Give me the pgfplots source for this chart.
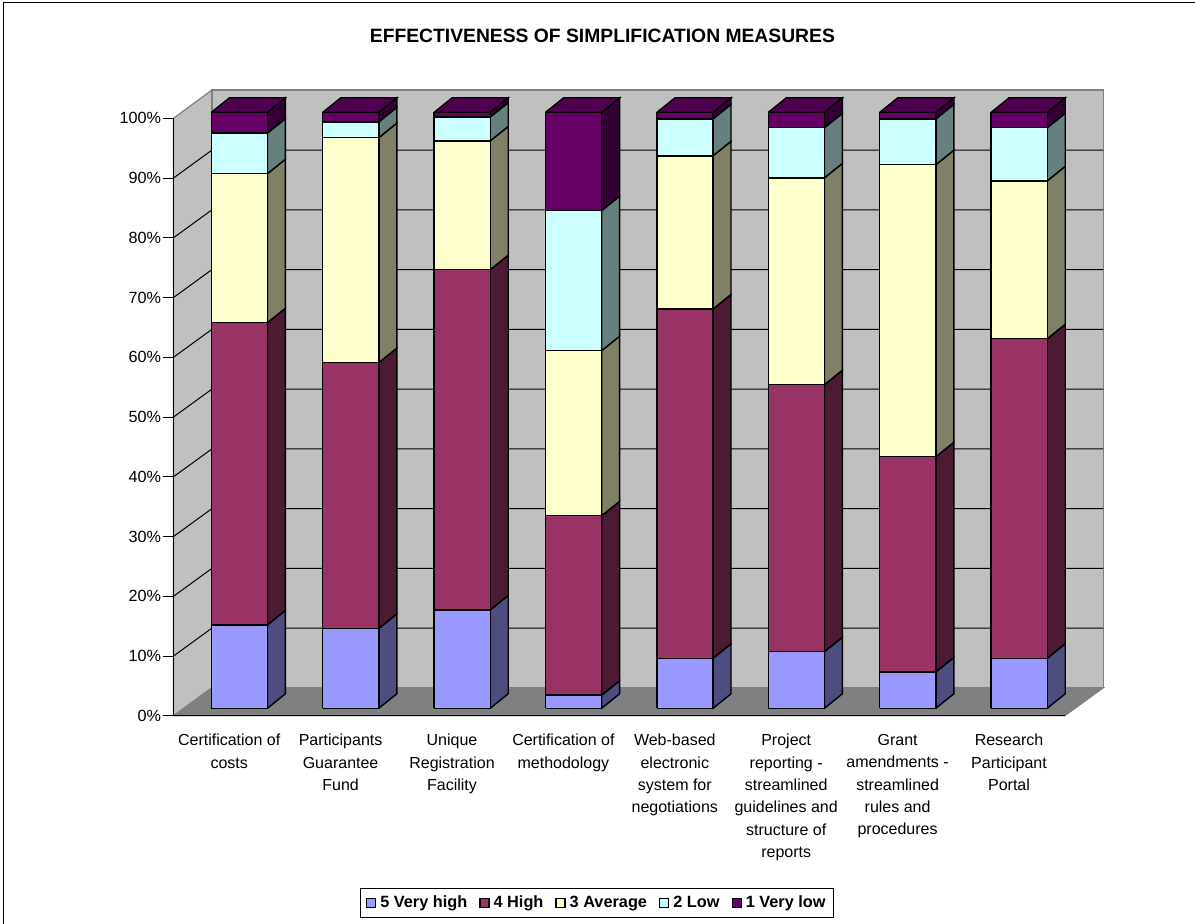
\documentclass[border=0pt]{standalone}
\usepackage{fontspec}
\setmainfont{Liberation Sans}
\usepackage{pgfplots}
\pgfplotsset{compat=1.18}
\definecolor{cA}{HTML}{9999FF}\definecolor{cAs}{HTML}{4D4D80}
\definecolor{cB}{HTML}{993366}\definecolor{cBs}{HTML}{4D1A33}
\definecolor{cC}{HTML}{FFFFCC}\definecolor{cCs}{HTML}{808066}
\definecolor{cD}{HTML}{CCFFFF}\definecolor{cDs}{HTML}{668080}
\definecolor{cE}{HTML}{660066}\definecolor{cEs}{HTML}{330033}\definecolor{cEt}{HTML}{4D004D}
\definecolor{wall}{HTML}{C0C0C0}\definecolor{floorc}{HTML}{808080}
\pgfplotsset{face/.style={forget plot,draw=black,line width=1.4pt,fill=#1}}
% one stacked segment of a bar: category, lower and upper cumulative percent, front and side colours
\newcommand{\seg}[5]{%
  \pgfmathsetmacro{\xa}{#1+0.34}\pgfmathsetmacro{\xb}{#1+0.34+0.503}\pgfmathsetmacro{\xc}{#1+0.34+0.503+0.1616}%
  \pgfmathsetmacro{\ya}{1.255+0.9975*#2}\pgfmathsetmacro{\yb}{1.255+0.9975*#3}%
  \pgfmathsetmacro{\yc}{\ya+2.427}\pgfmathsetmacro{\yd}{\yb+2.427}%
  \addplot[face=#5] coordinates {(\xb,\ya)(\xc,\yc)(\xc,\yd)(\xb,\yb)(\xb,\ya)};
  \addplot[face=#4] coordinates {(\xa,\ya)(\xb,\ya)(\xb,\yb)(\xa,\yb)(\xa,\ya)};
}
\newcommand{\stackbar}[6]{%
  \pgfmathsetmacro{\sa}{#2}\pgfmathsetmacro{\sb}{\sa+#3}\pgfmathsetmacro{\sc}{\sb+#4}\pgfmathsetmacro{\sd}{\sc+#5}\pgfmathsetmacro{\se}{\sd+#6}%
  \edef\doit{\noexpand\seg{#1}{0}{\sa}{cA}{cAs}\noexpand\seg{#1}{\sa}{\sb}{cB}{cBs}\noexpand\seg{#1}{\sb}{\sc}{cC}{cCs}\noexpand\seg{#1}{\sc}{\sd}{cD}{cDs}\noexpand\seg{#1}{\sd}{\se}{cE}{cEs}}\doit
  \pgfmathsetmacro{\xa}{#1+0.34}\pgfmathsetmacro{\xb}{#1+0.34+0.503}\pgfmathsetmacro{\xc}{#1+0.34+0.503+0.1616}\pgfmathsetmacro{\xd}{#1+0.34+0.1616}%
  \pgfmathsetmacro{\yb}{1.255+0.9975*\se}\pgfmathsetmacro{\yd}{\yb+2.427}%
  \addplot[face=cEt] coordinates {(\xa,\yb)(\xb,\yb)(\xc,\yd)(\xd,\yd)(\xa,\yb)};
}
\newcommand{\gridl}[1]{%
  \pgfmathsetmacro{\yd}{#1+4.686}%
  \addplot[forget plot,black,line width=1pt] coordinates {(0,#1)(0.3456,\yd)(8.3456,\yd)};
}
\begin{document}
\begin{tikzpicture}
\begin{axis}[
  scale only axis,width=891.2pt,height=597.5pt,
  xmin=0,xmax=8,ymin=0,ymax=100,clip=false,axis on top,
  axis x line*=bottom,axis y line*=left,axis line style={-,black,line width=1pt},
  tick align=outside,
  ytick={0,10,...,100},
  yticklabel={\pgfmathprintnumber{\tick}\%},
  /pgf/number format/assume math mode=true,
  yticklabel style={font=\fontsize{16.2}{19}\selectfont,xshift=1pt},
  major tick length=10pt,minor tick length=10pt,
  ytick style={black,line width=1pt},
  xtick={0.5,1.5,...,7.5},
  minor xtick={0,1,...,8},
  xtick style={draw=none},
  minor tick style={draw=black,line width=1pt},
  xticklabels={{Certification of\\costs},{Participants\\Guarantee\\Fund},{Unique\\Registration\\Facility},{Certification of\\methodology},{Web-based\\electronic\\system for\\negotiations},{Project\\reporting -\\streamlined\\guidelines and\\structure of\\reports},{Grant\\amendments -\\streamlined\\rules and\\procedures},{Research\\Participant\\Portal}},
  xticklabel style={align=center,font=\fontsize{16}{22.3}\selectfont,yshift=-5pt},
  title={\textbf{EFFECTIVENESS OF SIMPLIFICATION MEASURES}},
  title style={at={(axis cs:3.85,112.8)},anchor=center,font=\fontsize{19.3}{22}\selectfont},
  legend columns=5,
  legend style={at={(axis cs:3.80,-31.3)},anchor=center,draw=black,line width=1pt,font=\fontsize{16.3}{19}\selectfont\bfseries,
    /tikz/every even column/.append style={column sep=10pt},/tikz/every odd column/.append style={column sep=2pt},inner xsep=6pt,inner ysep=6pt},
  legend image code/.code={\draw[#1,draw=black,line width=1.3pt] (0pt,-4.5pt) rectangle (9pt,4.5pt);},
]
% chart frame: left and top edges only
\draw[black,line width=1.6pt] (axis cs:-1.5260,-36) -- (axis cs:-1.5260,119.35) -- (axis cs:9.3,119.35);
% walls and floor
\addplot[forget plot,fill=wall,draw=floorc,line width=1.2pt] coordinates {(0,0)(0.3456,4.686)(0.3456,104.74)(0,100)(0,0)};
\addplot[forget plot,fill=wall,draw=floorc,line width=1.2pt] coordinates {(0.3456,4.686)(8.3456,4.686)(8.3456,104.74)(0.3456,104.74)(0.3456,4.686)};
\addplot[forget plot,fill=floorc,draw=floorc,line width=1.2pt] coordinates {(0,0)(8,0)(8.3456,4.686)(0.3456,4.686)(0,0)};
\gridl{10}\gridl{20}\gridl{30}\gridl{40}\gridl{50}\gridl{60}\gridl{70}\gridl{80}\gridl{90}
% category, 5 Very high, 4 High, 3 Average, 2 Low, 1 Very low
\stackbar{0}{14.0}{50.7}{25.0}{6.8}{3.5}
\stackbar{1}{13.4}{44.6}{37.75}{2.65}{1.6}
\stackbar{2}{16.5}{57.1}{21.6}{4.0}{0.8}
\stackbar{3}{2.2}{30.1}{27.7}{23.5}{16.5}
\stackbar{4}{8.4}{58.6}{25.7}{6.2}{1.1}
\stackbar{5}{9.5}{44.8}{34.7}{8.4}{2.6}
\stackbar{6}{6.1}{36.1}{49.0}{7.7}{1.1}
\stackbar{7}{8.4}{53.6}{26.5}{8.9}{2.6}
\addlegendimage{fill=cA}\addlegendentry{5 Very high}
\addlegendimage{fill=cB}\addlegendentry{4 High}
\addlegendimage{fill=cC}\addlegendentry{3 Average}
\addlegendimage{fill=cD}\addlegendentry{2 Low}
\addlegendimage{fill=cE}\addlegendentry{1 Very low}
\end{axis}
\pgfresetboundingbox
\path[use as bounding box] (-173.5pt,-208.2pt) rectangle (1021.5pt,715.8pt);
\end{tikzpicture}
\end{document}
